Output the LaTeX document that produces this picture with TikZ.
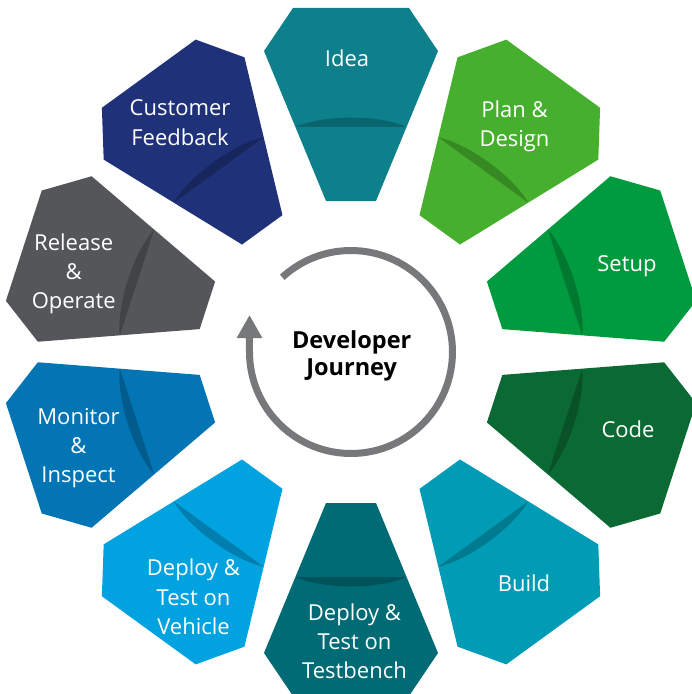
\documentclass[tikz,border=0pt]{standalone}
\usepackage{fontspec}
\setmainfont{Open Sans}
\usetikzlibrary{arrows.meta}

% stacked, centred lines whose reference point is the first baseline
\newcommand\lbl[1]{\begin{tabular}[t]{@{}c@{}}#1\end{tabular}}

\definecolor{cIdea}{RGB}{13,128,140}
\definecolor{cPlan}{RGB}{70,176,46}
\definecolor{cSetup}{RGB}{0,155,62}
\definecolor{cCode}{RGB}{11,105,51}
\definecolor{cBuild}{RGB}{0,156,182}
\definecolor{cBench}{RGB}{0,106,117}
\definecolor{cVehicle}{RGB}{0,162,224}
\definecolor{cMonitor}{RGB}{3,116,180}
\definecolor{cRelease}{RGB}{84,86,90}
\definecolor{cCustomer}{RGB}{31,49,120}
\definecolor{cArrow}{RGB}{118,120,122}

\begin{document}
\begin{tikzpicture}[x=1pt,y=1pt,
  ptext/.style={anchor=base,inner sep=0pt,text=white,
                font=\fontsize{22}{29.3}\selectfont},
  ctext/.style={anchor=base,inner sep=0pt,text=black,
                font=\bfseries\fontsize{23.5}{27.4}\selectfont},
  cycleline/.style={draw=cArrow,line width=7pt,line cap=butt},
]
\useasboundingbox (-351,-342) rectangle (341,352);

% ten petals around the hub, each with a darker crease
\foreach \ang/\col in {90/cIdea,54/cPlan,18/cSetup,-18/cCode,-54/cBuild,
                       -90/cBench,-126/cVehicle,-162/cMonitor,162/cRelease,126/cCustomer}{
  \begin{scope}[rotate=\ang-90]
    \path[fill=\col] (-25,151) -- (-87,301) -- (-58,344) -- (58,344)
                     -- (87,301) -- (25,151) -- cycle;
    \begin{scope}
      \clip (-25,151) -- (-87,301) -- (-58,344) -- (58,344)
            -- (87,301) -- (25,151) -- cycle;
      \fill[\col!78!black] (-55.6,225) -- (55.6,225)
            .. controls (27.8,237.5) and (-27.8,237.5) .. cycle;
    \end{scope}
  \end{scope}
}

% petal captions
\node[ptext] (idea)     at (-4,285.3)     {\lbl{Idea}};
\node[ptext] (plan)     at (163.5,234.7)  {\lbl{Plan \&\\Design}};
\node[ptext] (setup)    at (276,80.3)     {\lbl{Setup}};
\node[ptext] (code)     at (277,-85.7)    {\lbl{Code}};
\node[ptext] (build)    at (173,-239.7)   {\lbl{Build}};
\node[ptext] (bench)    at (3.5,-268)     {\lbl{Deploy \&\\Test on\\Testbench}};
\node[ptext] (vehicle)  at (-157.5,-223.7){\lbl{Deploy \&\\Test on\\Vehicle}};
\node[ptext] (monitor)  at (-272.5,-72)   {\lbl{Monitor\\\&\\Inspect}};
\node[ptext] (release)  at (-277.3,102)   {\lbl{Release\\\&\\Operate}};
\node[ptext] (customer) at (-171,236)     {\lbl{Customer\\Feedback}};

% hub: circular arrow and title
\coordinate (tail) at (132.6:101.5);
\coordinate (tip)  at (-101.5,37);
\draw[cycleline,-{Triangle[length=23pt,width=24pt]}]
  (tail) arc[start angle=132.6,end angle=-180,radius=101.5] -- (tip);
\node[ctext] (journey) at (0.7,3.7) {\lbl{Developer\\Journey}};
\end{tikzpicture}
\end{document}
